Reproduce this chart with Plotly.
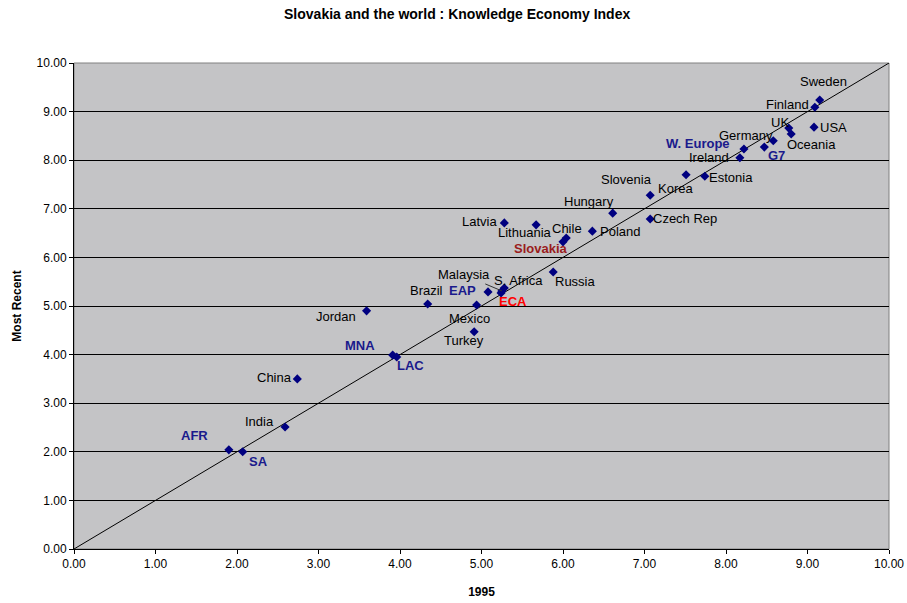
import plotly.graph_objects as go

# Knowledge Economy Index: 1995 score vs most recent score
names = ["Sweden", "Finland", "UK", "USA", "Oceania", "Germany", "G7", "W. Europe",
         "Ireland", "Estonia", "Slovenia", "Korea", "Hungary", "Czech Rep", "Poland",
         "Chile", "Slovakia", "Lithuania", "Latvia", "Russia", "S. Africa", "Malaysia",
         "ECA", "EAP", "Mexico", "Brazil", "Turkey", "Jordan", "MNA", "LAC", "China",
         "India", "AFR", "SA"]
kei_1995 = [9.15, 9.09, 8.77, 9.08, 8.80, 8.58, 8.47, 8.22,
            8.17, 7.74, 7.51, 7.07, 6.61, 7.07, 6.36,
            6.04, 6.00, 5.67, 5.28, 5.88, 5.28, 5.25,
            5.24, 5.08, 4.94, 4.34, 4.91, 3.59, 3.91, 3.96, 2.74,
            2.59, 1.90, 2.07]
kei_recent = [9.24, 9.09, 8.66, 8.68, 8.54, 8.40, 8.27, 8.23,
              8.05, 7.67, 7.70, 7.28, 6.91, 6.79, 6.54,
              6.40, 6.32, 6.67, 6.71, 5.70, 5.37, 5.31,
              5.27, 5.29, 5.02, 5.04, 4.47, 4.90, 3.99, 3.95, 3.50,
              2.51, 2.04, 2.00]
regions = {"W. Europe", "G7", "EAP", "MNA", "LAC", "AFR", "SA"}
tick_vals = [0, 1, 2, 3, 4, 5, 6, 7, 8, 9, 10]
tick_text = ["%.2f" % v for v in tick_vals]

# label offsets from each marker, in pixels (dx right, dy up)
label_shift = {
    "Sweden": (4, 18), "Finland": (-27, 3), "UK": (-9, 6), "USA": (19, 0),
    "Oceania": (20, -11), "Germany": (-27, 5), "G7": (12, -8), "W. Europe": (-46, 6),
    "Ireland": (-31, 0), "Estonia": (26, -1), "Slovenia": (-60, -5), "Korea": (25, 7),
    "Hungary": (-24, 12), "Czech Rep": (35, 1), "Poland": (28, 0), "Chile": (1, 9),
    "Slovakia": (-22, -7), "Lithuania": (-11, -8), "Latvia": (-25, 1), "Russia": (22, -10),
    "S. Africa": (14, 8), "Malaysia": (-38, 16), "ECA": (12, -9), "EAP": (-26, 1),
    "Mexico": (-7, -13), "Brazil": (-1, 14), "Turkey": (-10, -9), "Jordan": (-31, -6),
    "MNA": (-33, 10), "LAC": (14, -8), "China": (-23, 1), "India": (-26, 6),
    "AFR": (-34, 14), "SA": (16, -10),
}

FONT = "Liberation Sans, Arial, sans-serif"
NAVY = "#1a1a8c"

fig = go.Figure()

# 45-degree reference line
fig.add_trace(go.Scatter(x=[tick_vals[0], tick_vals[-1]], y=[tick_vals[0], tick_vals[-1]],
                         mode="lines", line=dict(color="#000000", width=1),
                         hoverinfo="skip", showlegend=False))

fig.add_trace(go.Scatter(x=kei_1995, y=kei_recent, mode="markers", text=names,
                         marker=dict(symbol="diamond", size=7, color="#000080"),
                         showlegend=False))

annotations = []
for n, x, y in zip(names, kei_1995, kei_recent):
    dx, dy = label_shift[n]
    if n in regions:
        color, txt = NAVY, "<b>%s</b>" % n
    elif n == "Slovakia":
        color, txt = "#9a1c1c", "<b>%s</b>" % n
    elif n == "ECA":
        color, txt = "#ff0000", "<b>%s</b>" % n
    else:
        color, txt = "#000000", n
    if n == "Malaysia":
        annotations.append(dict(x=x, y=y, xref="x", yref="y", text=txt, showarrow=True,
                                arrowhead=0, arrowwidth=1, arrowcolor="#333333",
                                ax=dx, ay=-dy, standoff=0,
                                font=dict(family=FONT, size=13, color=color)))
    else:
        annotations.append(dict(x=x, y=y, xref="x", yref="y", text=txt, showarrow=False,
                                xshift=dx, yshift=dy,
                                font=dict(family=FONT, size=13, color=color)))

fig.update_layout(
    width=907, height=603,
    margin=dict(l=74, r=18, t=63, b=54),
    paper_bgcolor="#ffffff", plot_bgcolor="#c4c4c6",
    title=dict(text="<b>Slovakia and the world : Knowledge Economy Index</b>",
               x=0.504, xanchor="center", y=0.977, yanchor="middle",
               font=dict(family=FONT, size=14, color="#000000")),
    annotations=annotations,
    xaxis=dict(range=[0, 10], tickvals=tick_vals, ticktext=tick_text, showgrid=False,
               zeroline=False, showline=True, linecolor="#000000", linewidth=1,
               ticks="outside", ticklen=4, tickcolor="#000000", automargin=False,
               tickfont=dict(family=FONT, size=12, color="#000000"),
               title=dict(text="<b>1995</b>", standoff=17,
                          font=dict(family=FONT, size=12, color="#000000"))),
    yaxis=dict(range=[0, 10], tickvals=tick_vals, ticktext=tick_text, showgrid=True,
               gridcolor="#000000", gridwidth=1, zeroline=False, showline=True,
               linecolor="#000000", linewidth=1, ticks="outside", ticklen=4,
               tickcolor="#000000", automargin=False,
               tickfont=dict(family=FONT, size=12, color="#000000"),
               title=dict(text="<b>Most Recent</b>", standoff=12,
                          font=dict(family=FONT, size=12, color="#000000"))),
    shapes=[dict(type="rect", xref="paper", yref="paper", x0=0, y0=0, x1=1, y1=1,
                 line=dict(color="#808080", width=1), layer="below")],
)

fig.write_html("out.html")
